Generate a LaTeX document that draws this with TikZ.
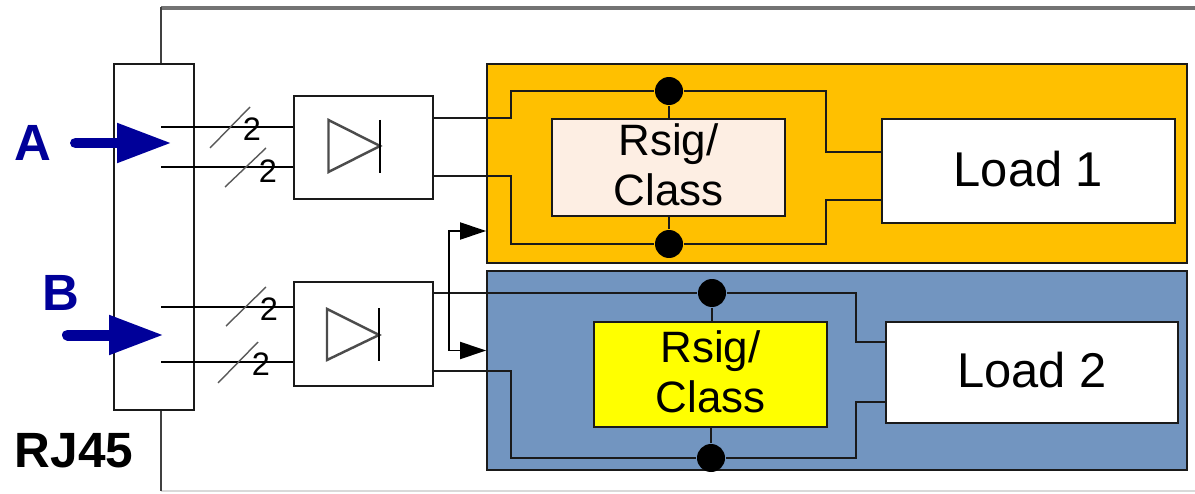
\documentclass[tikz,border=0pt]{standalone}
\usepackage{fontspec}
\setmainfont{Liberation Sans}
\usetikzlibrary{arrows.meta}
\definecolor{panelorange}{HTML}{FFC000}
\definecolor{panelblue}{HTML}{7295C0}
\definecolor{rsigpale}{HTML}{FDEEE3}
\definecolor{rsigyellow}{HTML}{FFFF00}
\definecolor{portblue}{HTML}{000099}
\definecolor{wirecol}{HTML}{1A1A1A}
\newcommand{\lifted}[1]{\raisebox{3pt}{#1}}
\begin{document}
\begin{tikzpicture}[
x=0.02cm,y=-0.02cm,
line width=1.1pt,
box/.style={%
draw=wirecol,
inner sep=0pt
},
dot/.style={%
circle,
fill=black,
inner sep=0pt,
minimum size=0.56cm
},
biglabel/.style={%
font=\fontsize{27.8}{30}\selectfont
},
rsiglabel/.style={%
align=center,
font=\fontsize{25}{28.5}\selectfont
},
portlabel/.style={%
text=portblue,
font=\bfseries\fontsize{29}{30}\selectfont
},
count/.style={%
inner sep=0pt,
font=\fontsize{18.5}{20}\selectfont
},
inflow/.style={%
draw=portblue,
line width=0.22cm,
line cap=round,
-{Triangle[length=1.1cm,width=0.74cm]}
},
tick/.style={%
draw=black!65,
line width=0.8pt
},
feed/.style={%
{Triangle[length=0.52cm,width=0.34cm]}-{Triangle[length=0.52cm,width=0.34cm]}
}
]
\useasboundingbox(0,0)rectangle(1195,493);
%% Enclosure
\draw[black!55,line width=1.8pt](161,8)--(1195,8);
\draw[black!15,line width=1.1pt](161,491)--(1195,491);
\draw[black!75](161,64)--(161,7);
\draw[black!75](161,410)--(161,491);
%% Connector
\node[box,fill=white,minimum width=1.6cm,minimum height=6.92cm]at(154,237)(conn){};
\node[font=\bfseries\fontsize{28.2}{30}\selectfont]at(74,451)(rj){RJ45};
%% Panels
\node[box,fill=panelorange,minimum width=14cm,minimum height=3.98cm]at(837,163.5)(panel1){};
\node[box,fill=panelblue,minimum width=14cm,minimum height=3.98cm]at(837,370.5)(panel2){};
%% Diode boxes
\node[box,fill=white,minimum width=2.78cm,minimum height=2.06cm]at(363.5,147.5)(dio1){};
\node[box,fill=white,minimum width=2.78cm,minimum height=2.08cm]at(363.5,334)(dio2){};
\draw[black!70,line width=1.4pt](328.5,120)--(380,146)--(328.5,172)--cycle;
\draw(380,120)--(380,173);
\draw[black!70,line width=1.4pt](327,309)--(379,335)--(327,360)--cycle;
\draw(379,308)--(379,361);
%% Rsig and loads
\node[box,fill=rsigpale,rsiglabel,minimum width=4.66cm,minimum height=1.94cm]at(668.5,167.5)(rsig1){\lifted{Rsig/}\\\lifted{Class}};
\node[box,fill=rsigyellow,rsiglabel,minimum width=4.66cm,minimum height=2.1cm]at(710.5,374.5)(rsig2){\lifted{Rsig/}\\\lifted{Class}};
\node[box,fill=white,biglabel,minimum width=5.86cm,minimum height=2.08cm]at(1028.5,171)(load1){\lifted{Load 1}};
\node[box,fill=white,biglabel,minimum width=5.84cm,minimum height=2.02cm]at(1032,372.5)(load2){\lifted{Load 2}};
%% Junctions
\node[dot]at(669,91)(top1){};
\node[dot]at(669,244)(bot1){};
\node[dot]at(712,293)(top2){};
\node[dot]at(711,458)(bot2){};
%% Wires panel 1
\coordinate(in1a)at(511,118);
\coordinate(in1b)at(511,176);
\coordinate(out1a)at(826,152);
\coordinate(out1b)at(826,200);
\draw[wirecol](dio1.east|-in1a)--(in1a)|-(top1)-|(out1a)--(load1.west|-out1a);
\draw[wirecol](dio1.east|-in1b)--(in1b)|-(bot1)-|(out1b)--(load1.west|-out1b);
\draw[wirecol](top1)--(rsig1.north-|top1);
\draw[wirecol](bot1)--(rsig1.south-|bot1);
%% Wires panel 2
\coordinate(in2b)at(511,371);
\coordinate(out2a)at(856,342);
\coordinate(out2b)at(856,402);
\draw[wirecol](dio2.east|-top2)--(top2)-|(out2a)--(load2.west|-out2a);
\draw[wirecol](dio2.east|-in2b)--(in2b)|-(bot2)-|(out2b)--(load2.west|-out2b);
\draw[wirecol](top2)--(rsig2.north-|top2);
\draw[wirecol](bot2)--(rsig2.south-|bot2);
%% Feed between panels
\coordinate(feedtop)at(449,231);
\coordinate(feedbot)at(449,350.5);
\draw[feed](panel1.west|-feedtop)--(feedtop)--(feedbot)--(panel2.west|-feedbot);
%% Pairs
\coordinate(pa1)at(161,127);
\coordinate(pa2)at(161,167);
\coordinate(pb1)at(161,307);
\coordinate(pb2)at(161,362);
\draw(pa1)--(dio1.west|-pa1);
\draw(pa2)--(dio1.west|-pa2);
\draw(pb1)--(dio2.west|-pb1);
\draw(pb2)--(dio2.west|-pb2);
\draw[tick](210,148)--(250,107);
\draw[tick](225,187)--(266,148);
\draw[tick](226,326)--(266,287);
\draw[tick](218,383)--(258,342);
\node[count]at(252,129)(n1){2};
\node[count]at(268,171)(n2){2};
\node[count]at(269,309)(n3){2};
\node[count]at(261,364)(n4){2};
%% Ports
\node[portlabel]at(33,143)(a){A};
\node[portlabel]at(61,293)(b){B};
\coordinate(astart)at(75.5,143);
\coordinate(aend)at(172,143);
\coordinate(bstart)at(67.5,335);
\coordinate(bend)at(164,335);
\draw[inflow](astart)--(aend);
\draw[inflow](bstart)--(bend);
\end{tikzpicture}
\end{document}
